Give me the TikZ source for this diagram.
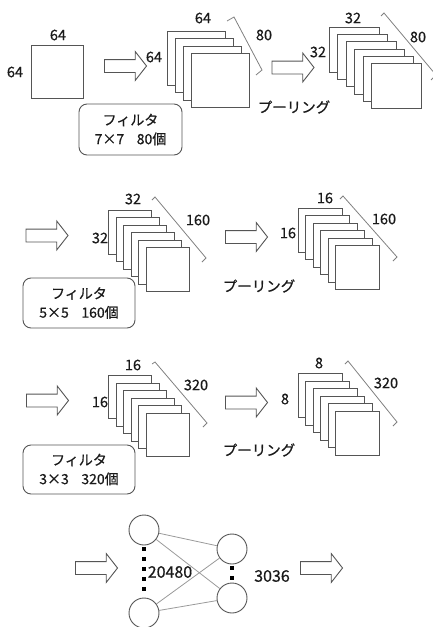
\documentclass[tikz,border=0pt]{standalone}
\usepackage{fontspec}
\setmainfont{Noto Sans CJK JP}
\newfontfamily\lblfont{Noto Sans CJK JP}[FakeBold=0.6]
\usetikzlibrary{shapes.arrows}
\definecolor{edgegray}{HTML}{555555}
\definecolor{linegray}{HTML}{9A9A9A}
\definecolor{txt}{HTML}{1A1A1A}
\tikzset{
  sq/.style={draw=edgegray, fill=white, line width=0.9pt, inner sep=0pt, anchor=north west},
  lbl/.style={text=txt, inner sep=0pt, font=\lblfont\fontsize{14.5}{16}\selectfont},
  biglbl/.style={text=txt, inner sep=0pt, font=\lblfont\fontsize{16}{18}\selectfont},
  blockarrow/.style={single arrow, draw=edgegray, fill=white, line width=0.9pt,
     minimum height=42pt, inner xsep=0pt, inner ysep=6pt,
     single arrow head extend=8pt, single arrow tip angle=104},
  filterbox/.style={draw=edgegray, rounded corners=8pt, line width=0.9pt, align=center,
     text=txt, font=\lblfont\fontsize{14}{19}\selectfont, inner sep=0pt},
  brk/.style={draw=gray, line width=0.8pt},
  neuron/.style={circle, draw=edgegray, fill=white, line width=0.9pt, minimum size=30pt, inner sep=0pt},
  wire/.style={draw=linegray, line width=0.8pt},
  dots/.style={draw=black, line width=4.5pt, dash pattern=on 4.5pt off 5.5pt}
}
\newcommand\stackof[8]{%
  \foreach \i in {1,...,#4} {
    \node[sq, minimum width=#7pt, minimum height=#8pt] (#1-\i) at ({#2+(\i-1)*#5},{#3+(\i-1)*#6}) {};
  }}
\begin{document}
\begin{tikzpicture}[x=1pt,y=-1pt]
\useasboundingbox (0,0) rectangle (433,627);
% row 1
\node[draw=edgegray, line width=0.9pt, minimum width=52pt, minimum height=53pt, inner sep=0pt] (in) at (57,71.5) {};
\node[lbl] (in-t) at (58,35) {64};
\node[lbl] (in-l) at (15,72) {64};
\node[blockarrow] (a1) at (123,66) {};
\stackof{s1}{167}{31}{4}{8}{7.3}{58}{54}
\node[lbl] (s1-t) at (203,18) {64};
\node[lbl] (s1-l) at (154,57) {64};
\draw[brk] (227,21) -- (234,17) -- (262,70) -- (256,75);
\node[lbl] (s1-n) at (264,35) {80};
\node[filterbox, minimum width=103pt, minimum height=51pt] (f1) at (130.5,129.5) {フィルタ\\7×7\hspace{0.9em}80個};
\node[blockarrow] (a2) at (290.5,67.5) {};
\node[lbl] (p1) at (294,107) {プーリング};
\stackof{s2}{329}{27}{6}{8.4}{7.2}{50}{45}
\node[lbl] (s2-t) at (353,18) {32};
\node[lbl] (s2-l) at (318,52) {32};
\draw[brk] (381,16) -- (384,13) -- (436,75) -- (431,80);
\node[lbl] (s2-n) at (418,37) {80};
% row 2
\node[blockarrow] (a3) at (44.5,235.5) {};
\stackof{s3}{108}{210}{6}{7.6}{7.4}{43}{44}
\node[lbl] (s3-t) at (133,199) {32};
\node[lbl] (s3-l) at (100,238) {32};
\draw[brk] (152,200) -- (155,197) -- (206,258) -- (202,262);
\node[lbl] (s3-n) at (198,220) {160};
\node[filterbox, minimum width=112pt, minimum height=50pt] (f2) at (79,303) {フィルタ\\5×5\hspace{0.9em}160個};
\node[blockarrow] (a4) at (244,237) {};
\node[lbl] (p2) at (259,286) {プーリング};
\stackof{s4}{298}{208}{6}{7.4}{7.4}{44}{44}
\node[lbl] (s4-t) at (325,198) {16};
\node[lbl] (s4-l) at (288,233) {16};
\draw[brk] (340,199) -- (343,196) -- (397,257) -- (393,261);
\node[lbl] (s4-n) at (384,219) {160};
% row 3
\node[blockarrow] (a5) at (45,400.5) {};
\stackof{s5}{108}{375}{6}{7.6}{7.6}{43}{43}
\node[lbl] (s5-t) at (133,365) {16};
\node[lbl] (s5-l) at (100,402) {16};
\draw[brk] (152,364) -- (155,362) -- (207,423) -- (203,427);
\node[lbl] (s5-n) at (196,385) {320};
\node[filterbox, minimum width=112pt, minimum height=49pt] (f3) at (79,469.5) {フィルタ\\3×3\hspace{0.9em}320個};
\node[blockarrow] (a6) at (244,402.5) {};
\node[lbl] (p3) at (259,450) {プーリング};
\stackof{s6}{298}{373}{6}{7.4}{7.6}{44}{44}
\node[lbl] (s6-t) at (319,363) {8};
\node[lbl] (s6-l) at (285,399) {8};
\draw[brk] (345,364) -- (348,361) -- (397,422) -- (393,426);
\node[lbl] (s6-n) at (386,383) {320};
% row 4: fully connected
\node[blockarrow] (a7) at (94,568) {};
\node[blockarrow] (a8) at (319,568) {};
\node[neuron] (L1) at (144,530) {};
\node[neuron] (L2) at (144,613) {};
\node[neuron] (R1) at (232,549) {};
\node[neuron] (R2) at (232,598) {};
\draw[wire] (L1) -- (R1);
\draw[wire] (L1) -- (R2);
\draw[wire] (L2) -- (R1);
\draw[wire] (L2) -- (R2);
\draw[dots] ([yshift=-1.5pt]L1.south) -- ([yshift=1.5pt]L2.north);
\draw[dots] ([yshift=-1.5pt]R1.south) -- ([yshift=1.5pt]R2.north);
\node[biglbl] (n1) at (170,572) {20480};
\node[biglbl] (n2) at (272,576) {3036};
\end{tikzpicture}
\end{document}
